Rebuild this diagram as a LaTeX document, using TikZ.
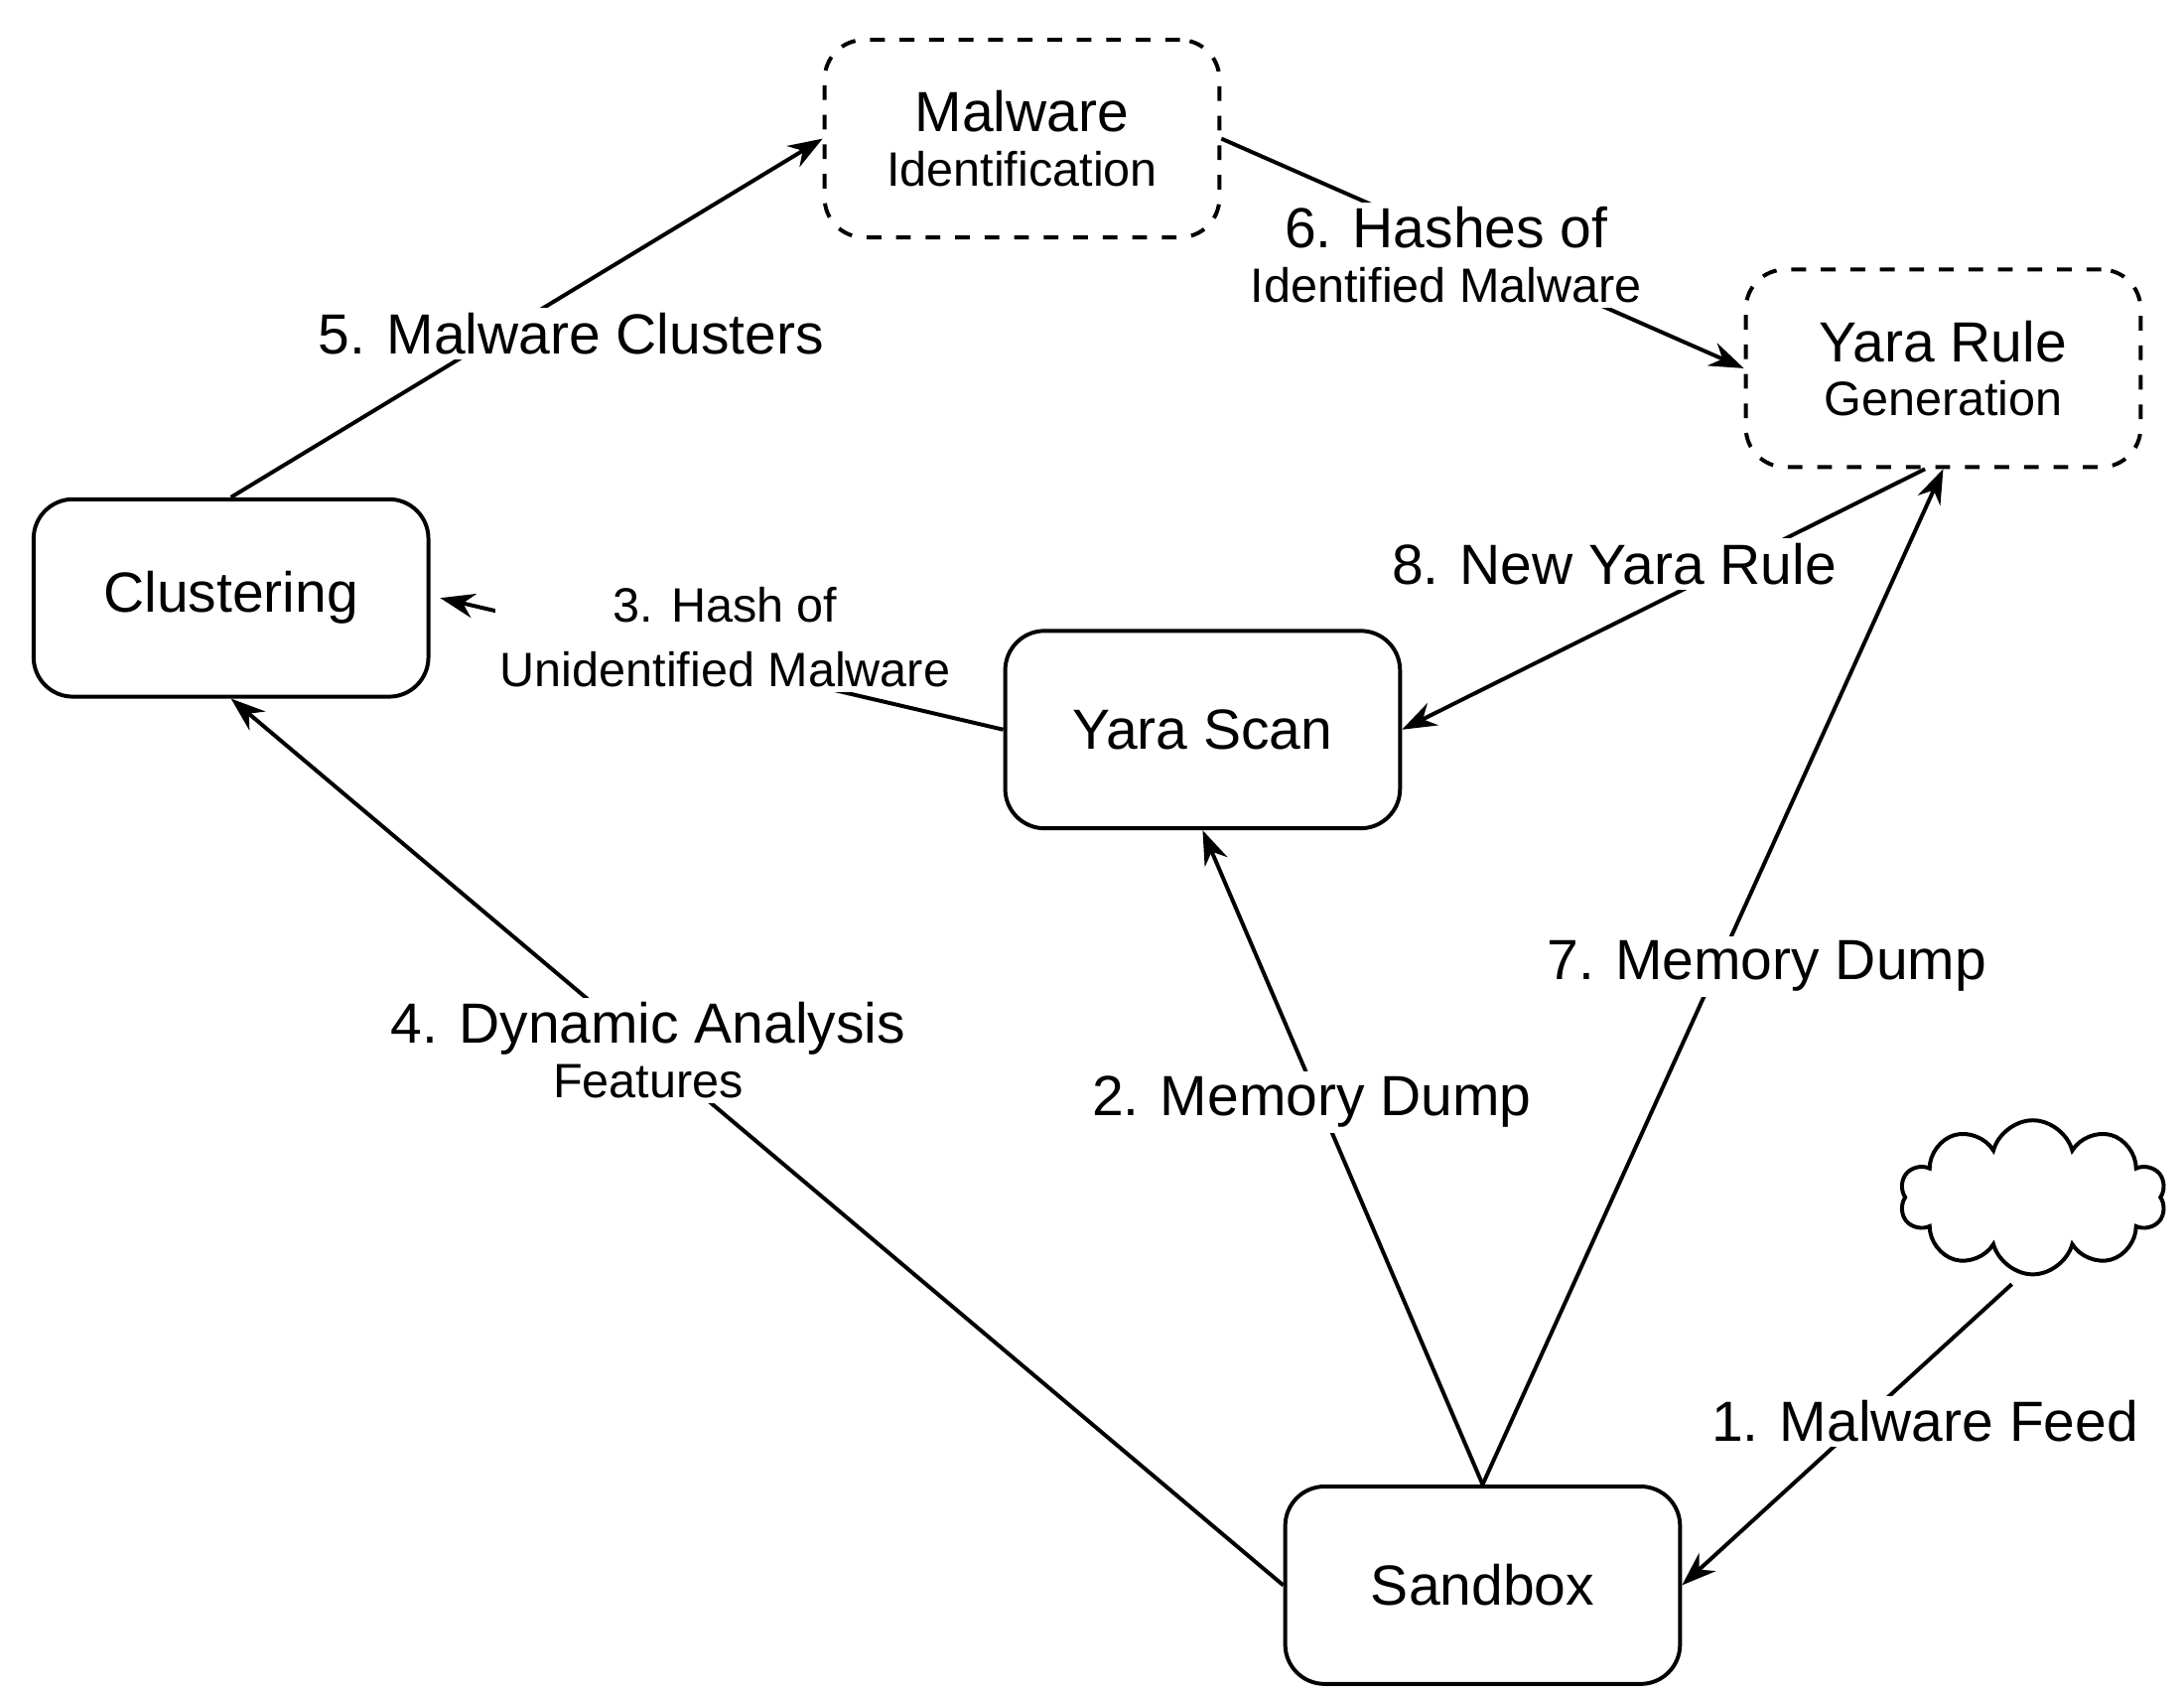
\documentclass[tikz,border=0pt]{standalone}
\usepackage{fontspec}
\setmainfont{Liberation Sans}
\usetikzlibrary{arrows.meta,shapes.symbols}
\tikzset{
  box/.style={draw, line width=0.8pt, rounded corners=8pt, minimum width=2.82cm, minimum height=1.41cm, align=center, font=\fontsize{11.5}{13}\selectfont},
  dbox/.style={box, dashed},
  lbl/.style={fill=white, inner sep=1pt, align=center, font=\fontsize{11.5}{13}\selectfont},
  conn/.style={line width=0.8pt, -{Stealth[length=7pt,width=5pt]}},
}
\newcommand{\sm}{\fontsize{9.8}{11.5}\selectfont}
\begin{document}
\begin{tikzpicture}
    \useasboundingbox (0,0) rectangle (15.6,12.11);

    \node [box] (clust) at (1.65,7.84) {Clustering};
    \node [dbox] (ident) at (7.30,11.12) {Malware\\[-2pt]{\sm Identification}};
    \node [dbox] (yrule) at (13.88,9.48) {Yara Rule\\[-2pt]{\sm Generation}};
    \node [box] (yscan) at (8.59,6.90) {Yara Scan};
    \node [box] (sbox) at (10.59,0.79) {Sandbox};
    \node [cloud, draw, line width=0.8pt, cloud puffs=10, aspect=1.7, minimum width=1.9cm, minimum height=1.1cm] (feed) at (14.52,3.56) {};

    \draw [conn] (14.37,2.94) -- (sbox.east);
    \draw [conn] (sbox.north) -- (yscan.south);
    \draw [conn] (sbox.north) -- (yrule.south);
    \draw [conn] (yscan.west) -- ([xshift=2pt]clust.east);
    \draw [conn] (sbox.west) -- (clust.south);
    \draw [conn] (clust.north) -- (ident.west);
    \draw [conn] (ident.east) -- (yrule.west);
    \draw [conn] ([xshift=-0.13cm]yrule.south) -- (yscan.east);

    \node [lbl] (l1) at (13.75,1.96) {1. Malware Feed};
    \node [lbl] (l2) at (9.37,4.24) {2. Memory Dump};
    \node [lbl] (l3) at (5.18,7.56) {{\sm 3. Hash of}\\{\sm Unidentified Malware}};
    \node [lbl] (l4) at (4.63,4.61) {4. Dynamic Analysis\\[-2pt]{\sm Features}};
    \node [lbl] (l5) at (4.08,9.73) {5. Malware Clusters};
    \node [lbl] (l6) at (10.33,10.29) {6. Hashes of\\[-2pt]{\sm Identified Malware}};
    \node [lbl] (l7) at (12.62,5.21) {7. Memory Dump};
    \node [lbl] (l8) at (11.53,8.08) {8. New Yara Rule};
\end{tikzpicture}
\end{document}
